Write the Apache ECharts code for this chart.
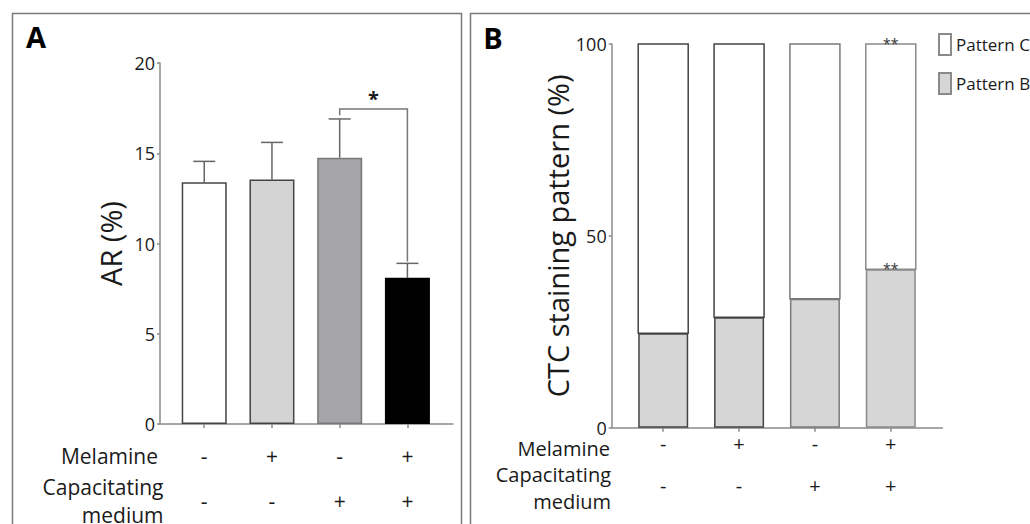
<!DOCTYPE html>
<html><head><meta charset="utf-8">
<script src="https://cdn.jsdelivr.net/npm/echarts@6/dist/echarts.min.js"></script>
<style>html,body{margin:0;padding:0;background:#fff}#c{width:1030px;height:524px}</style>
</head><body><div id="c"></div>
<script>
// ---- data ----
const melamine = ['-', '+', '-', '+'];
const capMedium = ['-', '-', '+', '+'];
const arMean = [13.4, 13.55, 14.75, 8.1];
const arErrTop = [14.55, 15.6, 16.9, 8.9];
const arTicks = [0, 5, 10, 15, 20];
const sigA = [[2, 3, 17.1, 17.45, 9.0, '*']];
const patternB = [24.6, 28.8, 33.6, 41.3];
const patternC = [75.4, 71.2, 66.4, 58.7];
const starsB = ['', '', '', '**'];
const starsC = ['', '', '', '**'];
const ctcTicks = [0, 50, 100];

const FONT = '"Open Sans", "DejaVu Sans", sans-serif';
const TXT = '#1a1a1a';
const AX = '#8a8a8a';
const catIdx = [0, 1, 2, 3];
const aFill = ['#ffffff', '#d4d4d4', '#a4a4a9', '#000000'];
const aBorder = ['#444444', '#444444', '#777777', '#000000'];
const bBorder = ['#444444', '#444444', '#7a7a7a', '#8a8a8a'];

const chart = echarts.init(document.getElementById('c'), null, {renderer: 'svg'});

function xAxisCfg(gi, min, max, fs, lh, margin) {
  return {
    type: 'value', gridIndex: gi, min: min, max: max,
    splitLine: {show: false},
    axisLine: {show: true, onZero: false, lineStyle: {color: AX, width: 1.5}},
    axisTick: {show: true, customValues: catIdx, length: 4, lineStyle: {color: AX, width: 1.5}},
    axisLabel: {
      customValues: catIdx, margin: margin, fontSize: fs, lineHeight: lh,
      fontFamily: FONT, color: TXT,
      formatter: v => melamine[Math.round(v)] + '\n' + capMedium[Math.round(v)]
    }
  };
}
function yAxisCfg(gi, max, interval, ticks, name, gap) {
  return {
    type: 'value', gridIndex: gi, min: 0, max: max, interval: interval,
    splitLine: {show: false},
    axisLine: {show: true, onZero: false, lineStyle: {color: AX, width: 1.5}},
    axisTick: {show: true, length: 3, lineStyle: {color: AX, width: 1.5}},
    axisLabel: {fontSize: 18, lineHeight: 16, fontFamily: FONT, color: TXT, margin: 5,
      formatter: v => (ticks.indexOf(v) >= 0 ? String(v) : '')},
    name: name, nameLocation: 'middle', nameRotate: 90, nameGap: gap,
    nameTextStyle: {fontSize: 29, fontFamily: FONT, color: TXT}
  };
}

const option = {
  backgroundColor: '#ffffff',
  animation: false,
  grid: [
    {left: 160, top: 63, width: 293, height: 361},
    {left: 611.7, top: 44, width: 330.6, height: 383.7}
  ],
  xAxis: [
    xAxisCfg(0, -0.653, 3.673, 21, 45, 9.5),
    xAxisCfg(1, -0.679, 3.679, 20, 42.4, -5.6)
  ],
  yAxis: [
    yAxisCfg(0, 20, 5, arTicks, 'AR (%)', 35),
    yAxisCfg(1, 100, 50, ctcTicks, 'CTC staining pattern (%)', 37)
  ],
  legend: {
    orient: 'vertical', left: 938, top: 33, padding: 0,
    itemWidth: 12, itemHeight: 21, itemGap: 16,
    icon: 'rect',
    textStyle: {fontSize: 17, fontFamily: FONT, color: TXT},
    data: ['Pattern C', 'Pattern B']
  },
  series: [
    {
      type: 'bar', xAxisIndex: 0, yAxisIndex: 0, barWidth: 45, z: 2,
      data: arMean.map((v, i) => ({
        value: [i, v],
        itemStyle: {color: aFill[i], borderColor: aBorder[i], borderWidth: 1.5}
      }))
    },
    {
      type: 'custom', xAxisIndex: 0, yAxisIndex: 0, z: 1,
      encode: {x: 0, y: [1, 2]},
      data: arMean.map((v, i) => [i, v, arErrTop[i]]),
      renderItem: function (params, api) {
        const x = api.value(0);
        const p0 = api.coord([x, api.value(1)]);
        const p1 = api.coord([x, api.value(2)]);
        const hw = 11;
        return {type: 'group', children: [
          {type: 'line', shape: {x1: p0[0], y1: p0[1], x2: p1[0], y2: p1[1]}, style: {stroke: '#666', lineWidth: 1.5}},
          {type: 'line', shape: {x1: p1[0] - hw, y1: p1[1], x2: p1[0] + hw, y2: p1[1]}, style: {stroke: '#666', lineWidth: 1.5}}
        ]};
      }
    },
    {
      type: 'custom', xAxisIndex: 0, yAxisIndex: 0, z: 3,
      encode: {x: [0, 1], y: [2, 3, 4]},
      data: sigA,
      renderItem: function (params, api) {
        const xa = api.value(0), xb = api.value(1);
        const pL = api.coord([xa, api.value(2)]);
        const pT1 = api.coord([xa, api.value(3)]);
        const pT2 = api.coord([xb, api.value(3)]);
        const pR = api.coord([xb, api.value(4)]);
        const s = sigA[params.dataIndex][5];
        return {type: 'group', children: [
          {type: 'polyline', shape: {points: [pL, pT1, pT2, pR]}, style: {stroke: '#777', lineWidth: 1.5, fill: null}},
          {type: 'text', style: {text: s, x: (pT1[0] + pT2[0]) / 2, y: pT1[1] - 11,
            align: 'center', verticalAlign: 'middle', fontSize: 20, fontWeight: 'bold', fontFamily: FONT, fill: TXT}}
        ]};
      }
    },
    {
      name: 'Pattern B', type: 'bar', xAxisIndex: 1, yAxisIndex: 1, barWidth: 50, z: 4,
      itemStyle: {color: '#d6d6d6', borderColor: '#8a8a8a', borderWidth: 1.5},
      data: patternB.map((v, i) => ({
        value: [i, v],
        itemStyle: {borderColor: bBorder[i]},
        label: {show: starsB[i] !== '', formatter: starsB[i], position: 'top', distance: -6,
          fontSize: 14, fontFamily: FONT, color: '#333'}
      }))
    },
    {
      // stacked on top of Pattern B: from patternB[i] to patternB[i] + patternC[i]
      name: 'Pattern C', type: 'custom', xAxisIndex: 1, yAxisIndex: 1, z: 3,
      itemStyle: {color: '#ffffff', borderColor: '#8a8a8a', borderWidth: 1.5},
      encode: {x: 0, y: [1, 2]},
      data: patternC.map((v, i) => [i, patternB[i], patternB[i] + v]),
      renderItem: function (params, api) {
        const i = params.dataIndex;
        const x = api.value(0);
        const pb = api.coord([x, api.value(1)]);
        const pt = api.coord([x, api.value(2)]);
        const w = 50;
        const children = [
          {type: 'rect', shape: {x: pb[0] - w / 2, y: pt[1], width: w, height: pb[1] - pt[1]},
            style: {fill: '#ffffff', stroke: bBorder[i], lineWidth: 1.5}}
        ];
        if (starsC[i]) {
          children.push({type: 'text', style: {text: starsC[i], x: pt[0], y: pt[1] + 6,
            align: 'center', verticalAlign: 'bottom', fontSize: 14, fontFamily: FONT, fill: '#333'}});
        }
        return {type: 'group', children: children};
      }
    }
  ],
  graphic: [
    {type: 'rect', shape: {x: 12.5, y: 13.5, width: 449, height: 600}, style: {fill: null, stroke: '#7a7a7a', lineWidth: 1.5}, silent: true},
    {type: 'rect', shape: {x: 470.5, y: 13.5, width: 700, height: 600}, style: {fill: null, stroke: '#7a7a7a', lineWidth: 1.5}, silent: true},
    {type: 'text', x: 36, y: 36, style: {text: 'A', align: 'center', verticalAlign: 'middle', fontSize: 29, fontWeight: 'bold', fontFamily: FONT, fill: '#000'}},
    {type: 'text', x: 493, y: 37, style: {text: 'B', align: 'center', verticalAlign: 'middle', fontSize: 29, fontWeight: 'bold', fontFamily: FONT, fill: '#000'}},
    {type: 'text', x: 158, y: 456, style: {text: 'Melamine', align: 'right', verticalAlign: 'middle', fontSize: 21, fontFamily: FONT, fill: TXT}},
    {type: 'text', x: 163.5, y: 501, style: {text: 'Capacitating\nmedium', align: 'right', verticalAlign: 'middle', fontSize: 21, lineHeight: 27.3, fontFamily: FONT, fill: TXT}},
    {type: 'text', x: 610, y: 448.5, style: {text: 'Melamine', align: 'right', verticalAlign: 'middle', fontSize: 20, lineHeight: 20, fontFamily: FONT, fill: TXT}},
    {type: 'text', x: 611, y: 487.8, style: {text: 'Capacitating\nmedium', align: 'right', verticalAlign: 'middle', fontSize: 20, lineHeight: 26.7, fontFamily: FONT, fill: TXT}}
  ]
};
chart.setOption(option);
</script>
</body></html>
